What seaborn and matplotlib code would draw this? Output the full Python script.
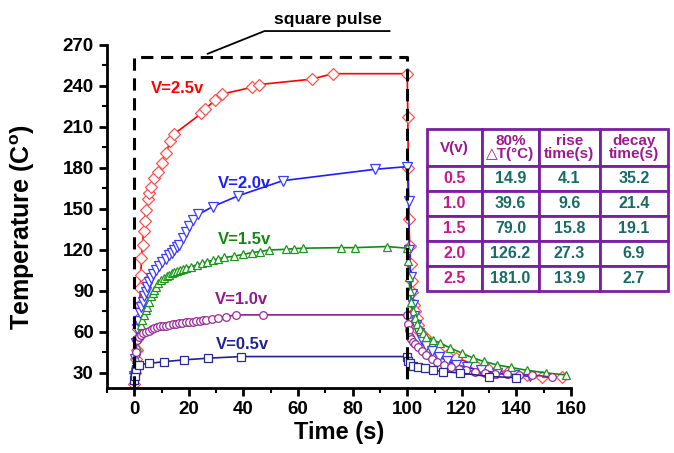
import numpy as np
import seaborn as sns
import matplotlib
matplotlib.use("Agg")
import matplotlib.pyplot as plt
from matplotlib.ticker import MultipleLocator

# Heating (0-100 s) and cooling (>100 s) curves
red_t_heat = [0, 0.2, 0.5, 0.8, 1.1, 1.4, 1.7, 2.0, 2.2, 2.4, 2.6, 3.0, 3.4, 3.8, 4.3, 4.9, 5.5,
              6.1, 7.3, 8.6, 10, 11.6, 13.2, 14.7, 24.6, 26, 29.7, 32, 43, 45.5, 65, 72.7, 100]
red_T_heat = [22, 30, 40, 47, 55, 62, 70, 80, 92, 102, 114, 124, 134, 141, 149, 157, 162,
              166, 173, 177, 184, 191, 200, 205, 220, 223, 230, 234, 239, 241, 245, 249, 249]
red_t_cool = [100.2, 100.4, 100.6, 100.9, 101.3, 101.6, 101.9, 102.3, 102.8, 103.4, 104, 104.8,
              106.4, 108.3, 111.2, 114.4, 118, 124.8, 129.5, 136.9, 143.7, 149.2, 156.6]
red_T_cool = [217, 180, 143, 123, 110, 97, 89, 80, 75, 70, 65, 60,
              56, 51, 46, 43, 41, 36, 33, 30.5, 28.6, 27.2, 27]

blue_t_heat = [0, 0.3, 0.6, 1.0, 1.5, 2.0, 2.4, 3.0, 3.7, 4.2, 4.8, 5.4, 6.1, 7.0, 8.0, 9.1, 10.3,
               11.5, 12.8, 13.8, 14.7, 15.6, 16.5, 17.7, 19, 20.2, 21.4, 23.5, 28.7, 37.9, 54.4, 88, 100]
blue_T_heat = [28, 40, 52, 62, 68, 74, 78, 82, 86, 89.5, 93, 96.5, 99.5, 102.5, 105.5, 108.5, 111,
               113.5, 116, 118, 120, 122, 124, 128.6, 133, 137.6, 142, 146, 151.7, 159.5, 170.7, 179, 181]
blue_t_cool = [100.5, 100.8, 101.2, 101.6, 102, 102.6, 103.3, 104.2, 105.5, 107, 109, 111.5,
               114.5, 118, 122, 127, 133, 139, 145]
blue_T_cool = [156, 120, 100, 88, 80, 72, 65, 59, 54, 50, 46, 42, 39, 36, 34, 32, 30, 28.5, 27.5]

green_t_heat = [0, 0.3, 0.6, 1.1, 1.8, 2.4, 2.9, 3.5, 4.1, 4.8, 5.4, 6.1, 6.7, 7.3, 8, 8.8, 9.8,
                10.8, 11.8, 12.8, 13.8, 14.7, 15.8, 16.8, 17.8, 18.8, 20.8, 22.8, 24.8, 26.8, 28.8,
                30.8, 33, 36.7, 40, 43, 45.9, 49.5, 55.7, 58.5, 61.7, 75.8, 80.7, 92.4, 100]
green_T_heat = [30, 35, 40, 49, 59.5, 65, 69, 72.5, 76, 78.6, 82, 86, 88.5, 90.8, 93, 95.5, 98,
                99.5, 100.8, 102, 103, 103.8, 104.8, 105.6, 106.4, 107, 107.8, 109, 110.3, 111.5, 112.5,
                113.5, 114.5, 115.5, 116.8, 118, 118.8, 120, 120.5, 121, 121.3, 121.7, 121.7, 122.5, 121.3]
green_t_cool = [100.3, 100.6, 101, 101.5, 102, 102.7, 103.5, 104.5, 105.7, 107, 109.5, 112, 115.6,
                120, 124, 128, 132.7, 138, 143.7, 151, 158]
green_T_cool = [112, 100, 90, 82, 75, 70, 66, 62.5, 59.5, 56.6, 54, 52, 48.4,
                44.6, 41, 38.5, 36, 34, 32, 30, 28.6]

purple_t_heat = [0, 0.3, 0.6, 1.1, 1.7, 2.4, 3.3, 4.3, 5.3, 6.3, 7.3, 8.4, 9.5, 10.5, 11.6, 12.8,
                 14, 15.3, 16.4, 17.6, 18.9, 20.2, 21.4, 22.6, 24, 25.2, 26.3, 28.4, 30.5, 33.6,
                 37.3, 47, 100]
purple_T_heat = [24, 33, 45, 54.2, 56.5, 57.8, 59, 60, 61, 62, 63, 63.6, 64, 64.2, 64.4, 65,
                 65.5, 66, 66.3, 66.6, 67, 67.3, 67.6, 68, 68.3, 68.6, 68.8, 69.8, 70.5, 71.3,
                 72.5, 72.5, 72.5]
purple_t_cool = [100.2, 100.5, 101, 101.5, 102, 103, 104, 105.5, 107, 109, 111, 113.5, 116, 119,
                 121.7, 125, 128.4, 132, 136.4, 141, 145.6, 152.9]
purple_T_cool = [66, 61.5, 56.6, 54.5, 53, 51, 49, 46, 43, 40.5, 38, 36, 34.6, 33,
                 32, 31, 30, 29.5, 29, 28.8, 28.6, 27]

navy_t_heat = [0, 0.3, 0.6, 1.8, 5.5, 11, 18.3, 27, 39, 100]
navy_T_heat = [25, 28, 33, 36, 37, 38.3, 39.6, 40.8, 42, 42]
navy_t_cool = [100.3, 101, 102, 103.9, 106.4, 109.4, 113, 119.3, 130, 140]
navy_T_cool = [39, 37, 35, 34, 33.5, 32, 31, 30, 27.4, 26.6]

# Table values
table_volts = ['0.5', '1.0', '1.5', '2.0', '2.5']
table_dT80 = ['14.9', '39.6', '79.0', '126.2', '181.0']
table_rise = ['4.1', '9.6', '15.8', '27.3', '13.9']
table_decay = ['35.2', '21.4', '19.1', '6.9', '2.7']
table_header = ['V(v)', '80%\n\u25b3T(\u00b0C)', 'rise\ntime(s)', 'decay\ntime(s)']

sns.set_style("ticks")
plt.rcParams['font.family'] = ['Liberation Sans', 'DejaVu Sans']
plt.rcParams['font.weight'] = 'bold'
plt.rcParams['axes.labelweight'] = 'bold'
plt.rcParams['mathtext.fontset'] = 'custom'
plt.rcParams['mathtext.rm'] = 'Liberation Sans:bold'
plt.rcParams['mathtext.bf'] = 'Liberation Sans:bold'
for key in ['text.color', 'axes.labelcolor', 'xtick.color', 'ytick.color', 'axes.edgecolor']:
    plt.rcParams[key] = 'black'

fig = plt.figure(figsize=(6.74, 4.53), dpi=100)
ax = fig.add_axes([0.1588, 0.1435, 0.6884, 0.7572])

series = [
    (red_t_heat + red_t_cool, red_T_heat + red_T_cool, '#FF0000', '#FF5050', 'D', 6.5),
    (blue_t_heat + blue_t_cool, blue_T_heat + blue_T_cool, '#1E1EFF', '#3C3CFF', 'v', 6.5),
    (green_t_heat + green_t_cool, green_T_heat + green_T_cool, '#128A12', '#1E961E', '^', 6),
    (purple_t_heat + purple_t_cool, purple_T_heat + purple_T_cool, '#8E1C8E', '#9A2A9A', 'o', 5.5),
    (navy_t_heat + navy_t_cool, navy_T_heat + navy_T_cool, '#22228E', '#2A2A96', 's', 5.5),
]
for t, T, lc, mc, mk, ms in series:
    sns.lineplot(x=t, y=T, ax=ax, sort=False, estimator=None, color=lc, linewidth=1.2,
                 marker=mk, markersize=ms, markerfacecolor='white', markeredgecolor=mc,
                 markeredgewidth=0.9)

# square pulse outline
ax.plot([0, 0, 100, 100], [19, 261.5, 261.5, 19], color='black', linestyle=(0, (4, 2.5)),
        linewidth=2.2, zorder=10, clip_on=False)
ax.plot([26.8, 47.7, 93.6], [263.5, 280.2, 280.2], color='black', linewidth=1.3, clip_on=False)
ax.text(70.8, 289, 'square pulse', ha='center', va='center', fontsize=12.5,
        fontweight='bold', clip_on=False)

# curve labels
lab_kw = dict(fontsize=12, fontweight='bold', ha='center', va='center')
ax.text(15.8, 238.5, 'V=2.5v', color='#FF0000', **lab_kw)
ax.text(40.4, 169, 'V=2.0v', color='#1E1EFF', **lab_kw)
ax.text(40.4, 127.3, 'V=1.5v', color='#128A12', **lab_kw)
ax.text(39.3, 83.5, 'V=1.0v', color='#8E1C8E', **lab_kw)
ax.text(39.6, 50.5, 'V=0.5v', color='#22228E', **lab_kw)

ax.set_xlim(-10, 160)
ax.set_ylim(19, 270)
ax.set_xticks(np.arange(0, 161, 20))
ax.set_yticks(np.arange(30, 271, 30))
ax.xaxis.set_minor_locator(MultipleLocator(10))
ax.yaxis.set_minor_locator(MultipleLocator(15))
ax.tick_params(which='major', direction='out', length=6, width=2, labelsize=13.5)
ax.tick_params(which='minor', direction='out', length=3.5, width=1.5)
for lbl in ax.get_xticklabels() + ax.get_yticklabels():
    lbl.set_fontweight('heavy')
for s in ['left', 'bottom']:
    ax.spines[s].set_linewidth(2)
for s in ['top', 'right']:
    ax.spines[s].set_visible(False)
ax.set_xlabel('Time (s)', fontsize=17, fontweight='bold', labelpad=2)
ax.set_ylabel(r'Temperature (C$^{\mathrm{o}}$)', fontsize=18, fontweight='bold')
ax.yaxis.set_label_coords(-0.15, 0.47)

# data table
tax = fig.add_axes([0.6335, 0.3576, 0.3576, 0.3576])
tax.axis('off')
rows = [[v, d, r, dc] for v, d, r, dc in zip(table_volts, table_dT80, table_rise, table_decay)]
tbl = tax.table(cellText=rows, colLabels=table_header, cellLoc='center',
                colWidths=[55, 57, 61, 68], bbox=[0, 0, 1, 1])
tbl.auto_set_font_size(False)
tbl.set_fontsize(11.5)
for (r, c), cell in tbl.get_celld().items():
    cell.set_edgecolor('#7A1FA0')
    cell.set_linewidth(2)
    cell.set_height(37 if r == 0 else 25)
    txt = cell.get_text()
    txt.set_fontweight('bold')
    if r == 0:
        txt.set_color('#9B1B8E')
        txt.set_fontsize(11)
        txt.set_linespacing(0.85)
    elif c == 0:
        txt.set_color('#C8188C')
    else:
        txt.set_color('#1A6B66')

fig.savefig('out.png', dpi=100)
